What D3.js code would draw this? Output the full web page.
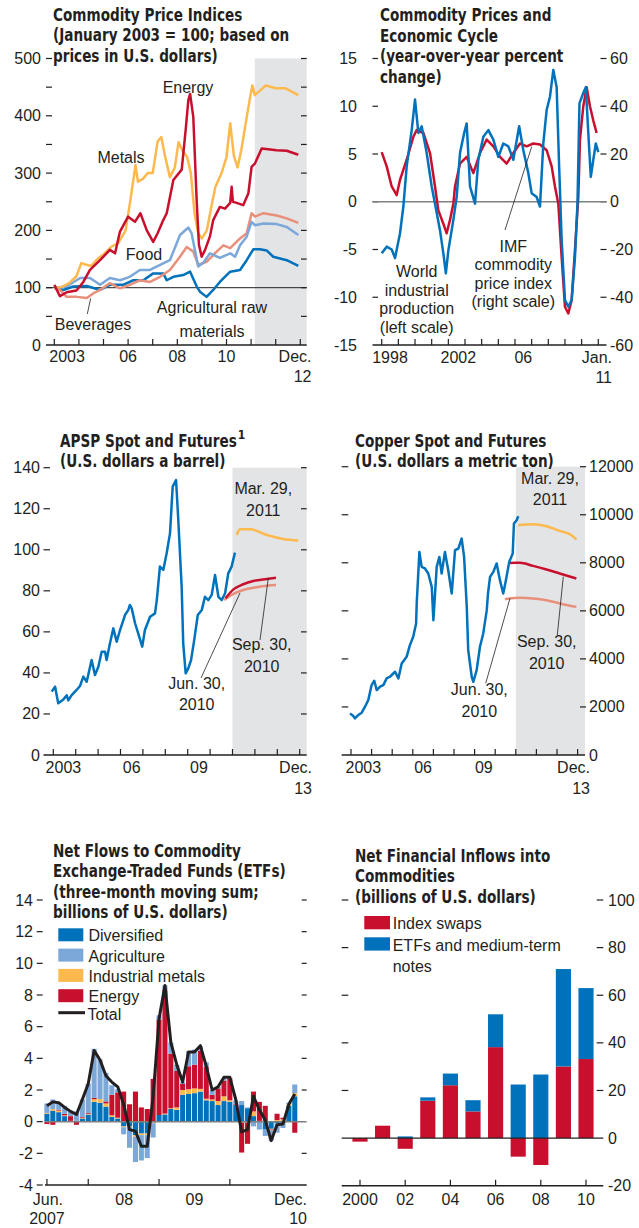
<!DOCTYPE html>
<html>
<head>
<meta charset="utf-8">
<script src="https://cdn.jsdelivr.net/npm/d3@7"></script>
<style>
  body { margin: 0; background: #fff; }
  svg text { font-family: "Liberation Sans", Arial, sans-serif; font-size: 16px; fill: #231f20; }
  svg text.title { font-family: "Liberation Sans Narrow", "Arial Narrow", "DejaVu Sans Condensed", sans-serif; font-weight: bold; font-size: 18px; }
</style>
</head>
<body>
<svg width="639" height="1228"></svg>
<script>
// ---- Panel 1: commodity price indices (Jan 2003 = 100) ----
const metals = [[2003.0,100],[2003.3,101],[2003.6,108],[2003.9,120],[2004.1,143],[2004.3,140],[2004.5,138],[2004.8,152],[2005.0,158],[2005.3,171],[2005.6,178],[2005.9,200],[2006.1,255],[2006.3,314],[2006.4,285],[2006.6,290],[2006.8,300],[2007.0,300],[2007.2,355],[2007.35,363],[2007.5,330],[2007.7,293],[2007.9,310],[2008.05,354],[2008.2,340],[2008.4,328],[2008.55,300],[2008.7,230],[2008.85,195],[2009.0,186],[2009.2,200],[2009.4,245],[2009.55,276],[2009.8,300],[2010.0,328],[2010.15,387],[2010.3,330],[2010.45,310],[2010.6,340],[2010.8,392],[2010.95,430],[2011.05,453],[2011.15,436],[2011.6,453],[2012.0,448],[2012.4,448],[2012.92,436]];
const energy = [[2003.0,105],[2003.23,85],[2003.5,92],[2003.9,95],[2004.18,110],[2004.45,131],[2004.86,148],[2005.26,166],[2005.47,160],[2005.67,198],[2006.0,224],[2006.28,215],[2006.5,230],[2006.76,200],[2007.02,180],[2007.2,195],[2007.43,218],[2007.57,230],[2007.84,288],[2008.18,306],[2008.35,380],[2008.45,428],[2008.52,438],[2008.65,398],[2008.79,250],[2008.88,175],[2008.99,154],[2009.13,166],[2009.33,190],[2009.46,218],[2009.73,241],[2009.94,238],[2010.15,248],[2010.21,276],[2010.26,250],[2010.41,248],[2010.68,244],[2010.89,265],[2011.02,311],[2011.16,317],[2011.43,343],[2012.04,340],[2012.45,339],[2012.92,332]];
const food = [[2003.0,100],[2003.5,102],[2004.05,117],[2004.45,117],[2004.86,105],[2005.26,117],[2005.67,113],[2006.07,119],[2006.48,131],[2006.89,131],[2007.3,140],[2007.7,148],[2008.11,192],[2008.45,205],[2008.58,195],[2008.85,137],[2009.05,143],[2009.33,160],[2009.73,152],[2010.15,160],[2010.35,154],[2010.55,174],[2010.82,189],[2011.02,215],[2011.16,209],[2011.5,212],[2012.04,211],[2012.45,206],[2012.92,192]];
const beverages = [[2003.0,100],[2003.23,96],[2003.5,84],[2003.91,84],[2004.32,82],[2004.58,90],[2004.86,96],[2005.26,108],[2005.67,99],[2006.07,105],[2006.48,113],[2006.89,110],[2007.3,119],[2007.7,131],[2008.11,154],[2008.38,171],[2008.65,163],[2008.85,140],[2009.19,145],[2009.6,163],[2009.87,174],[2010.15,169],[2010.55,186],[2010.82,195],[2011.02,230],[2011.16,224],[2011.5,230],[2012.04,226],[2012.45,221],[2012.92,213]];
const agriRaw = [[2003.0,100],[2003.37,96],[2003.77,102],[2004.32,103],[2004.86,96],[2005.26,105],[2005.8,105],[2006.21,113],[2006.62,113],[2007.02,125],[2007.43,125],[2007.57,113],[2007.84,119],[2008.24,122],[2008.52,128],[2008.79,102],[2008.92,93],[2009.19,84],[2009.46,96],[2009.73,110],[2010.15,128],[2010.55,131],[2010.82,148],[2011.09,167],[2011.36,167],[2011.63,165],[2011.9,154],[2012.45,148],[2012.92,138]];
const p1Forecast = 2011.15;
const p1YLabels = [0, 100, 200, 300, 400, 500];

// ---- Panel 2: commodity prices and economic cycle (y/y %) ----
const worldIP = [[1998.0,5.2],[1998.3,3.7],[1998.6,1.6],[1998.9,0.7],[1999.1,2.3],[1999.5,4.4],[1999.9,6.8],[2000.1,7.5],[2000.5,7.2],[2000.9,5.1],[2001.2,1.6],[2001.4,-0.9],[2001.7,-2.3],[2001.9,-3.3],[2002.1,-1.9],[2002.3,-0.2],[2002.4,1.6],[2002.7,4.0],[2003.1,4.7],[2003.5,3.0],[2003.9,5.1],[2004.3,6.5],[2004.7,5.8],[2005.1,4.7],[2005.5,4.0],[2005.9,5.1],[2006.3,6.1],[2006.7,5.8],[2007.1,6.1],[2007.5,6.0],[2007.9,5.4],[2008.2,3.7],[2008.4,1.6],[2008.6,-0.2],[2008.8,-5.8],[2009.0,-11],[2009.2,-11.7],[2009.4,-10.3],[2009.6,-5],[2009.8,0.5],[2009.9,6.5],[2010.1,10],[2010.3,12],[2010.5,10],[2010.7,8.5],[2010.9,7.2]];
const imfIndex = [[1998.0,-21.6],[1998.3,-18.8],[1998.6,-20],[1998.8,-23.6],[1999.1,-13.2],[1999.3,-2],[1999.5,14.8],[1999.8,30],[2000.0,42.8],[2000.2,28.8],[2000.4,31.6],[2000.7,20.4],[2001.0,6.4],[2001.2,-0.8],[2001.5,-12],[2001.7,-21.6],[2001.85,-30],[2002.0,-20.4],[2002.3,-7.6],[2002.5,2],[2002.7,20.4],[2002.95,28.8],[2003.1,32.8],[2003.3,6.4],[2003.6,-0.8],[2003.8,17.6],[2004.1,27.2],[2004.4,30],[2004.7,26],[2005.0,18.8],[2005.3,24.4],[2005.6,23.2],[2005.9,17.6],[2006.25,31.6],[2006.5,21.6],[2006.8,12],[2007.0,3.6],[2007.3,2],[2007.5,-2],[2007.7,24.4],[2007.9,38.4],[2008.1,44],[2008.3,55.2],[2008.5,48],[2008.65,14.8],[2008.8,-16],[2009.0,-41.2],[2009.2,-44],[2009.4,-41.2],[2009.6,-23.2],[2009.75,-0.8],[2009.87,41.2],[2010.1,45.6],[2010.25,48],[2010.4,28.8],[2010.55,10.4],[2010.7,17.6],[2010.85,24.4],[2011.0,20.8]];
const p2LeftLabels = [-15, -10, -5, 0, 5, 10, 15];
const p2RightLabels = [-60, -40, -20, 0, 20, 40, 60];

// ---- Panel 3: APSP spot and futures (US$ a barrel) ----
const apspSpot = [[2002.93,30.9],[2003.08,33.3],[2003.22,25.2],[2003.45,27.1],[2003.6,29.1],[2003.67,26.6],[2003.82,29.2],[2004.04,31.7],[2004.19,33.6],[2004.34,38.2],[2004.49,35.7],[2004.61,41.4],[2004.71,46.3],[2004.86,39],[2005.01,43],[2005.16,50.3],[2005.31,50.3],[2005.38,46.3],[2005.53,54.4],[2005.68,61.7],[2005.83,55.2],[2005.98,60.9],[2006.2,68.2],[2006.35,70.7],[2006.42,73.1],[2006.5,71.5],[2006.65,64.2],[2006.79,59.3],[2006.97,52.8],[2007.09,60.9],[2007.32,67.4],[2007.54,69],[2007.62,75.5],[2007.76,91.8],[2007.91,90.2],[2008.06,98.3],[2008.21,108],[2008.33,130.8],[2008.48,134],[2008.58,114.5],[2008.73,82],[2008.8,54.4],[2008.91,39.8],[2009.03,42.3],[2009.15,46.3],[2009.29,56],[2009.45,68.2],[2009.63,70.7],[2009.77,77.1],[2009.92,75.5],[2010.07,78],[2010.22,87.7],[2010.37,77.1],[2010.52,75.5],[2010.67,78.8],[2010.81,88.5],[2010.96,91.8],[2011.11,98.6]];
const apspMar11 = [[2011.19,107.2],[2011.33,110],[2011.78,110],[2012.53,107.2],[2013.27,105.3],[2013.94,104.5]];
const apspSep10 = [[2010.69,76.4],[2011.04,80.7],[2011.48,83.2],[2011.93,84.8],[2012.53,85.8],[2012.94,86.4]];
const apspJun10 = [[2010.63,75.5],[2011.04,78.5],[2011.48,80.4],[2011.93,81.5],[2012.53,82.5],[2012.94,82.8]];
const p3YLabels = [0, 20, 40, 60, 80, 100, 120, 140];

// ---- Panel 4: copper spot and futures (US$ a metric ton) ----
const copperSpot = [[2002.95,1733],[2003.11,1622],[2003.19,1525],[2003.35,1663],[2003.52,1760],[2003.68,2010],[2003.84,2287],[2004.0,2910],[2004.13,3090],[2004.25,2703],[2004.41,2842],[2004.57,2910],[2004.73,3188],[2004.89,3257],[2005.14,3465],[2005.3,3188],[2005.46,3812],[2005.7,4088],[2005.86,4574],[2006.02,4920],[2006.16,5476],[2006.19,6307],[2006.32,8453],[2006.43,7829],[2006.59,7763],[2006.75,7555],[2006.92,6999],[2007.0,5613],[2007.16,7829],[2007.29,8245],[2007.4,7555],[2007.56,8453],[2007.72,7692],[2007.89,6723],[2008.05,8524],[2008.21,8594],[2008.37,9010],[2008.49,8245],[2008.62,6166],[2008.69,4366],[2008.86,3257],[2008.94,3049],[2009.1,3534],[2009.26,4505],[2009.42,5060],[2009.59,6029],[2009.65,6723],[2009.75,7414],[2009.91,7622],[2010.07,7970],[2010.23,7277],[2010.39,6723],[2010.52,7277],[2010.68,8037],[2010.85,8387],[2010.91,9634],[2011.04,9771],[2011.12,9938]];
const copperMar11 = [[2011.12,9563],[2011.84,9605],[2012.49,9522],[2013.13,9327],[2013.7,9148],[2013.94,8969]];
const copperSep10 = [[2010.68,7996],[2011.2,8000],[2011.84,7871],[2012.49,7721],[2013.13,7555],[2013.94,7347]];
const copperJun10 = [[2010.47,6487],[2011.2,6541],[2011.84,6515],[2012.49,6445],[2013.13,6307],[2013.94,6166]];
const p4YLabels = [0, 2000, 4000, 6000, 8000, 10000, 12000];

// ---- Panel 5: net flows to commodity ETFs, Jun 2007 - Dec 2010 (billions US$) ----
const etfDiversified = [0.5,0.7,0.6,0.35,0.0,0.05,0.2,0.45,1.25,1.2,0.95,0.3,0.2,-0.3,-0.3,-0.85,-0.75,-0.75,-0.05,0.42,0.46,0.8,0.75,1.7,1.75,1.8,1.9,1.35,1.3,1.05,1.3,1.25,1.05,1.05,0.85,0.35,0.0,-0.5,-0.45,-0.1,-0.1,1.0,1.6];
const etfAgriculture = [0.6,0.6,0.4,0.5,0.3,0.6,1.1,1.85,3.1,2.5,1.8,0.6,0.2,-0.45,-1.3,-1.6,-1.6,-1.45,-0.9,0.3,0.3,0.7,0.4,0.1,0.95,0.95,0.3,0.3,0.3,0.1,0.1,0.1,0.25,0.25,0.05,-0.3,-0.5,-0.4,-0.65,-0.6,-0.3,0.1,0.55];
const etfMetals = [0.05,0.1,0.1,0.05,0.05,0.0,0.05,0.05,0.17,0.23,0.2,0.1,0.05,-0.05,-0.05,-0.1,-0.1,-0.1,-0.05,0.0,0.05,0.05,0.15,0.3,0.3,0.3,0.17,0.1,0.1,0.25,0.3,0.1,0.0,-0.05,-0.05,0.3,0.05,0.0,-0.05,0.1,0.15,0.1,0.2];
const etfEnergy = [-0.15,-0.2,0.05,0.1,0.3,-0.2,0.05,0.05,0.08,0.0,0.13,1.3,1.6,1.9,1.1,1.9,0.9,0.8,2.7,6.0,7.8,3.45,2.3,0.4,1.45,1.5,2.4,2.0,0.3,0.8,1.0,1.35,0.05,-1.9,-1.35,1.25,1.2,1.0,-0.05,0.4,0.1,0.0,-0.7];
const etfTotal = [1.0,1.25,1.2,0.9,0.65,0.45,1.4,2.4,4.5,3.9,2.9,2.5,2.2,1.1,-0.5,-0.6,-1.55,-1.55,1.6,6.5,8.6,5.0,3.6,2.5,4.4,4.4,4.8,3.5,2.0,2.2,2.8,2.8,1.4,-0.65,-0.5,1.6,0.75,0.1,-1.2,-0.2,-0.15,1.1,1.75];
const etfTicks = [0, 7, 19, 31];
const p5YLabels = [-4, -2, 0, 2, 4, 6, 8, 10, 12, 14];

// ---- Panel 6: net financial inflows into commodities (billions US$) ----
const inflowYears = [2000,2001,2002,2003,2004,2005,2006,2007,2008,2009,2010];
const indexSwaps = [-1.5,5.2,-4.5,15.7,22.2,11.2,38.2,-7.8,-11.3,30.1,33.2];
const etfNotes = [0,0,0.7,1.4,4.9,4.7,13.8,22.5,26.7,40.9,29.8];
const p6YLabels = [-20, 0, 20, 40, 60, 80, 100];

// ---------------------------------------------------------------
const svg = d3.select("svg");
const ink = "#231f20";
const col = { red: "#c8102e", orange: "#fdb94e", salmon: "#e8907c", lblue: "#7ba7d9", dblue: "#0072bc", shade: "#e3e4e6" };
const squeeze = 0.84; // titles are set in a condensed bold face

function title(x, y, lines) {
  const t = svg.append("text").attr("class", "title").attr("x", x).attr("y", y)
    .attr("transform", `translate(${x * (1 - squeeze)},0) scale(${squeeze},1)`);
  lines.forEach((s, i) => t.append("tspan").attr("x", x).attr("dy", i ? 20.5 : 0).text(s));
  return t;
}
function label(x, y, s, anchor) {
  return svg.append("text").attr("x", x).attr("y", y).attr("text-anchor", anchor || "middle").text(s);
}
function hTicks(y, values, xa, xb) {
  svg.append("g").selectAll("line").data(values).join("line")
    .attr("x1", xa).attr("x2", xb).attr("y1", d => y(d)).attr("y2", d => y(d))
    .attr("stroke", ink).attr("stroke-width", 1.2);
}
function yLabels(y, values, x, anchor, fmt) {
  svg.append("g").selectAll("text").data(values).join("text")
    .attr("x", x).attr("y", d => y(d) + 5.5).attr("text-anchor", anchor)
    .text(fmt || (d => d));
}
function xAxis(x, values, y0, xa, xb) {
  svg.append("line").attr("x1", xa).attr("x2", xb).attr("y1", y0).attr("y2", y0)
    .attr("stroke", ink).attr("stroke-width", 1.5);
  svg.append("g").selectAll("line").data(values).join("line")
    .attr("x1", d => x(d)).attr("x2", d => x(d)).attr("y1", y0).attr("y2", y0 - 6)
    .attr("stroke", ink).attr("stroke-width", 1.2);
}
function series(data, x, y, color, w, curve) {
  const line = d3.line().x(d => x(d[0])).y(d => y(d[1])).curve(curve || d3.curveLinear);
  svg.append("path").datum(data).attr("d", line).attr("fill", "none")
    .attr("stroke", color).attr("stroke-width", w || 2.5).attr("stroke-linejoin", "round");
}
function leader(x1, y1, x2, y2) {
  svg.append("line").attr("x1", x1).attr("y1", y1).attr("x2", x2).attr("y2", y2)
    .attr("stroke", ink).attr("stroke-width", 0.8);
}

// ---------------- Panel 1 ----------------
{
  const x = d3.scaleLinear().domain([2003, 2013]).range([54.3, 300.3]);
  const y = d3.scaleLinear().domain([0, 500]).range([345, 58.5]);
  svg.append("rect").attr("x", x(p1Forecast)).attr("y", y(500))
    .attr("width", 306.7 - x(p1Forecast)).attr("height", y(0) - y(500)).attr("fill", col.shade);
  title(53, 21, ["Commodity Price Indices", "(January 2003 = 100; based on", "prices in U.S. dollars)"]);
  hTicks(y, d3.range(50, 501, 50), 46, 52);
  hTicks(y, d3.range(50, 501, 50), 301, 306.7);
  yLabels(y, p1YLabels, 41, "end");
  svg.append("line").attr("x1", 46).attr("x2", 306.7).attr("y1", y(100)).attr("y2", y(100))
    .attr("stroke", ink).attr("stroke-width", 1);
  series(agriRaw, x, y, col.dblue);
  series(beverages, x, y, col.salmon);
  series(food, x, y, col.lblue);
  series(metals, x, y, col.orange);
  series(energy, x, y, col.red);
  xAxis(x, d3.range(2003, 2014), 345, 46, 306.7);
  label(x(2003.52), 362, "2003");
  label(x(2006), 362, "06");
  label(x(2008), 362, "08");
  label(x(2010), 362, "10");
  label(311.5, 362, "Dec.", "end");
  label(311.5, 382, "12", "end");
  label(188, 93, "Energy");
  label(121, 163, "Metals");
  label(144, 260, "Food");
  label(93, 330, "Beverages");
  leader(90.7, 298.3, 87.3, 314);
  label(212, 313, "Agricultural raw");
  label(212, 336.5, "materials");
}

// ---------------- Panel 2 ----------------
{
  const x = d3.scaleLinear().domain([1998, 2011]).range([381.7, 598.3]);
  const yl = d3.scaleLinear().domain([-15, 15]).range([345, 58.5]);
  const yr = d3.scaleLinear().domain([-60, 60]).range([345, 58.5]);
  title(380, 21.5, ["Commodity Prices and", "Economic Cycle", "(year-over-year percent", "change)"]);
  hTicks(yl, p2LeftLabels.filter(d => d > -15), 372.5, 378);
  hTicks(yr, p2RightLabels.filter(d => d > -60), 600.5, 606.5);
  yLabels(yl, p2LeftLabels, 357, "end");
  yLabels(yr, p2RightLabels, 610, "start");
  svg.append("line").attr("x1", 372.5).attr("x2", 606.5).attr("y1", yl(0)).attr("y2", yl(0))
    .attr("stroke", "#808080").attr("stroke-width", 1.5);
  series(worldIP, x, yl, col.red);
  series(imfIndex, x, yr, col.dblue);
  xAxis(x, d3.range(1998, 2012), 345, 372.5, 606.5);
  label(x(1998.5), 362.5, "1998");
  label(x(2002.6), 362.5, "2002");
  label(x(2006.5), 362.5, "06");
  label(612, 362.5, "Jan.", "end");
  label(612, 383, "11", "end");
  ["World", "industrial", "production", "(left scale)"].forEach((s, i) => label(416.7, 277.3 + i * 18.4, s));
  ["IMF", "commodity", "price index", "(right scale)"].forEach((s, i) => label(513.3, 251.7 + i * 18.4, s));
  leader(505, 230, 531.7, 146.7);
}

// ---------------- Panel 3 ----------------
{
  const x = d3.scaleLinear().domain([2003, 2014]).range([53.3, 299.7]);
  const y = d3.scaleLinear().domain([0, 140]).range([755, 467.7]);
  svg.append("rect").attr("x", x(2011)).attr("y", y(140))
    .attr("width", 306.7 - x(2011)).attr("height", y(0) - y(140)).attr("fill", col.shade);
  const t = title(60, 447, ["APSP Spot and Futures", "(U.S. dollars a barrel)"]);
  const w = t.select("tspan").node().getComputedTextLength() * squeeze;
  svg.append("text").attr("class", "title").attr("x", 60 + w + 1).attr("y", 439).style("font-size", "12px").text("1");
  hTicks(y, p3YLabels.filter(d => d > 0), 43.5, 50);
  hTicks(y, p3YLabels.filter(d => d > 0), 301, 306.7);
  yLabels(y, p3YLabels, 40, "end");
  series(apspJun10, x, y, col.salmon, 2.5, d3.curveMonotoneX);
  series(apspSep10, x, y, col.red, 2.5, d3.curveMonotoneX);
  series(apspMar11, x, y, col.orange, 2.5, d3.curveMonotoneX);
  series(apspSpot, x, y, col.dblue);
  xAxis(x, d3.range(2003, 2015), 755, 43.5, 306.7);
  label(x(2003.45), 773, "2003");
  label(x(2006.5), 773, "06");
  label(x(2009.5), 773, "09");
  label(312, 773, "Dec.", "end");
  label(312, 794, "13", "end");
  label(263.3, 494, "Mar. 29,");
  label(263.3, 515.5, "2011");
  label(196.7, 688.5, "Jun. 30,");
  label(196.7, 710, "2010");
  label(261.7, 650, "Sep. 30,");
  label(261.7, 671.5, "2010");
  leader(201, 678, 240, 593);
  leader(260, 640, 268.3, 578);
}

// ---------------- Panel 4 ----------------
{
  const x = d3.scaleLinear().domain([2003, 2014]).range([351, 577.6]);
  const y = d3.scaleLinear().domain([0, 12000]).range([755, 466.7]);
  svg.append("rect").attr("x", x(2011)).attr("y", y(12000))
    .attr("width", 585 - x(2011)).attr("height", y(0) - y(12000)).attr("fill", col.shade);
  title(355, 447, ["Copper Spot and Futures", "(U.S. dollars a metric ton)"]);
  hTicks(y, p4YLabels.filter(d => d > 0), 341.7, 348.3);
  hTicks(y, p4YLabels.filter(d => d > 0), 580, 586);
  yLabels(y, p4YLabels, 589, "start");
  series(copperJun10, x, y, col.salmon, 2.5, d3.curveMonotoneX);
  series(copperSep10, x, y, col.red, 2.5, d3.curveMonotoneX);
  series(copperMar11, x, y, col.orange, 2.5, d3.curveMonotoneX);
  series(copperSpot, x, y, col.dblue);
  xAxis(x, d3.range(2003, 2015), 755, 341.7, 585);
  label(x(2003.6), 773, "2003");
  label(x(2006.5), 773, "06");
  label(x(2009.45), 773, "09");
  label(590, 773, "Dec.", "end");
  label(590, 794, "13", "end");
  label(550, 484, "Mar. 29,");
  label(550, 505, "2011");
  label(479.3, 695, "Jun. 30,");
  label(479.3, 716.5, "2010");
  label(546.7, 647, "Sep. 30,");
  label(546.7, 668.5, "2010");
  leader(485.7, 683.3, 510, 598.3);
  leader(557.3, 635, 563.3, 576.7);
}

// ---------------- Panel 5 ----------------
{
  const n = etfTotal.length;
  const rows = d3.range(n).map(i => ({
    i, Diversified: etfDiversified[i], "Industrial metals": etfMetals[i],
    Energy: etfEnergy[i], Agriculture: etfAgriculture[i]
  }));
  const keys = ["Diversified", "Industrial metals", "Energy", "Agriculture"];
  const colors = { Diversified: col.dblue, Agriculture: col.lblue, "Industrial metals": col.orange, Energy: col.red };
  const x = d3.scaleBand().domain(d3.range(n)).range([44.4, 297.3]).paddingInner(0.14);
  const y = d3.scaleLinear().domain([-4, 14]).range([1185, 900]);
  title(53, 857, ["Net Flows to Commodity", "Exchange-Traded Funds (ETFs)", "(three-month moving sum;", "billions of U.S. dollars)"]);
  hTicks(y, p5YLabels, 36.7, 42.7);
  hTicks(y, p5YLabels.filter(d => d !== 0 && d !== -4), 301.7, 306.7);
  yLabels(y, p5YLabels, 33, "end");
  const stack = d3.stack().keys(keys).offset(d3.stackOffsetDiverging)(rows);
  svg.append("g").selectAll("g").data(stack).join("g").attr("fill", d => colors[d.key])
    .selectAll("rect").data(d => d).join("rect")
    .attr("x", d => x(d.data.i)).attr("width", x.bandwidth())
    .attr("y", d => y(Math.max(d[0], d[1]))).attr("height", d => Math.abs(y(d[0]) - y(d[1])));
  svg.append("line").attr("x1", 45).attr("x2", 306.7).attr("y1", y(0)).attr("y2", y(0))
    .attr("stroke", "#808080").attr("stroke-width", 1.5);
  svg.append("path").datum(etfTotal)
    .attr("d", d3.line().x((d, i) => x(i) + x.bandwidth() / 2).y(d => y(d)))
    .attr("fill", "none").attr("stroke", ink).attr("stroke-width", 3).attr("stroke-linejoin", "round");
  const xc = i => x(i) + x.bandwidth() / 2;
  svg.append("line").attr("x1", 45).attr("x2", 306.7).attr("y1", 1185).attr("y2", 1185)
    .attr("stroke", ink).attr("stroke-width", 1.5);
  svg.append("g").selectAll("line").data(etfTicks).join("line")
    .attr("x1", xc).attr("x2", xc).attr("y1", 1185).attr("y2", 1179).attr("stroke", ink).attr("stroke-width", 1.2);
  label(xc(0) + 1, 1205, "Jun.");
  label(xc(0), 1224, "2007");
  label(xc(13) + 0.5, 1205, "08");
  label(xc(25), 1205, "09");
  label(307, 1205, "Dec.", "end");
  label(307, 1224, "10", "end");
  // legend
  const leg = [["Diversified", col.dblue], ["Agriculture", col.lblue], ["Industrial metals", col.orange], ["Energy", col.red]];
  leg.forEach(([s, c], i) => {
    const yy = 928.3 + i * 20.3;
    svg.append("rect").attr("x", 58.3).attr("y", yy).attr("width", 25).attr("height", 13).attr("fill", c);
    label(88.5, yy + 13, s, "start");
  });
  svg.append("line").attr("x1", 58.3).attr("x2", 85).attr("y1", 1012.7).attr("y2", 1012.7)
    .attr("stroke", ink).attr("stroke-width", 3);
  label(87.5, 1019.5, "Total", "start");
}

// ---------------- Panel 6 ----------------
{
  const rows = inflowYears.map((yr, i) => ({ yr, swaps: indexSwaps[i], etfs: etfNotes[i] }));
  const x = d3.scaleBand().domain(inflowYears).range([348.7, 597.3]).paddingInner(0.33).paddingOuter(0.165);
  const y = d3.scaleLinear().domain([-20, 100]).range([1185.7, 900]);
  title(355, 862, ["Net Financial Inflows into", "Commodities", "(billions of U.S. dollars)"]);
  hTicks(y, p6YLabels.filter(d => d > 0), 341.7, 348.3);
  hTicks(y, p6YLabels.filter(d => d !== 0 && d !== -20), 596.7, 603.3);
  yLabels(y, p6YLabels, 608, "start");
  const stack = d3.stack().keys(["swaps", "etfs"]).offset(d3.stackOffsetDiverging)(rows);
  const colors = { swaps: col.red, etfs: col.dblue };
  svg.append("g").selectAll("g").data(stack).join("g").attr("fill", d => colors[d.key])
    .selectAll("rect").data(d => d).join("rect")
    .attr("x", d => x(d.data.yr)).attr("width", x.bandwidth())
    .attr("y", d => y(Math.max(d[0], d[1]))).attr("height", d => Math.abs(y(d[0]) - y(d[1])));
  svg.append("line").attr("x1", 341.7).attr("x2", 603.3).attr("y1", y(0)).attr("y2", y(0))
    .attr("stroke", ink).attr("stroke-width", 1.2);
  const evenYears = inflowYears.filter(d => d % 2 === 0);
  const xc = d => x(d) + x.bandwidth() / 2;
  svg.append("line").attr("x1", 341.7).attr("x2", 603.3).attr("y1", y(-20)).attr("y2", y(-20))
    .attr("stroke", ink).attr("stroke-width", 1.5);
  svg.append("g").selectAll("line").data(evenYears).join("line")
    .attr("x1", xc).attr("x2", xc).attr("y1", y(-20)).attr("y2", y(-20) - 6).attr("stroke", ink).attr("stroke-width", 1.2);
  evenYears.forEach(d => label(xc(d), 1205, d === 2000 ? "2000" : String(d).slice(2)));
  svg.append("rect").attr("x", 364.3).attr("y", 916).attr("width", 25.7).attr("height", 13.3).attr("fill", col.red);
  label(392.7, 929.3, "Index swaps", "start");
  svg.append("rect").attr("x", 364.3).attr("y", 937.3).attr("width", 25.7).attr("height", 13.3).attr("fill", col.dblue);
  label(392.7, 950.7, "ETFs and medium-term", "start");
  label(392.7, 971.7, "notes", "start");
}
</script>
</body>
</html>
